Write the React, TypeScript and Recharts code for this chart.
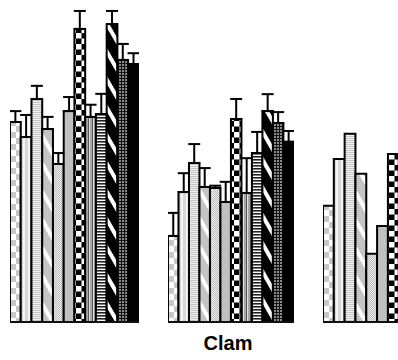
import React from 'react';
import { BarChart, Bar, XAxis, YAxis, ErrorBar } from 'recharts';

const groupNames = ['Group A', 'Clam', 'Group C'];
const seriesKeys = ['s1', 's2', 's3', 's4', 's5', 's6', 's7', 's8', 's9', 's10', 's11', 's12'];

const group1Values = [62.5, 57.8, 69.7, 60.3, 49.4, 65.9, 91.6, 64.1, 65.0, 93.1, 81.9, 80.6];
const group1Errors = [3.4, 6.9, 4.1, 3.8, 3.4, 4.4, 5.6, 3.8, 6.3, 4.1, 5.0, 3.4];

const group2Values = [26.9, 40.6, 49.7, 42.2, 41.9, 37.5, 63.4, 40.3, 52.8, 65.9, 62.2, 56.3];
const group2Errors = [7.2, 5.9, 5.9, 5.9, 0.7, 6.3, 6.3, 10.9, 6.6, 5.3, 3.4, 3.4];

const group3Values = [36.3, 50.9, 58.8, 46.3, 21.3, 30.0, 52.5, null, null, null, null, null];

function buildRows(name: string, values: (number | null)[], errors?: number[]) {
  const row: any = { name };
  seriesKeys.forEach((k, i) => {
    row[k] = values[i];
    if (errors) row[k + 'e'] = [0, errors[i]];
  });
  return [row];
}

const data1 = buildRows(groupNames[0], group1Values, group1Errors);
const data2 = buildRows(groupNames[1], group2Values, group2Errors);
const data3 = buildRows(groupNames[2], group3Values);

function Patterns() {
  return (
    <svg width={0} height={0} style={{ position: 'absolute', left: 0, top: 0 }}>
      <defs>
        <pattern id="pat1" width="12" height="12" patternUnits="userSpaceOnUse">
          <rect width="12" height="12" fill="#ffffff" />
          <rect width="6" height="6" fill="#c8c8c8" />
          <rect x="6" y="6" width="6" height="6" fill="#c8c8c8" />
        </pattern>
        <pattern id="pat2" width="5" height="5" patternUnits="userSpaceOnUse">
          <rect width="5" height="5" fill="#d6d6d6" />
          <rect x="3" width="2" height="5" fill="#f4f4f4" />
        </pattern>
        <pattern id="pat3" width="4" height="2" patternUnits="userSpaceOnUse">
          <rect width="4" height="2" fill="#f2f2f2" />
          <rect width="4" height="1" fill="#c4c4c4" />
        </pattern>
        <pattern id="pat4" width="14" height="14" patternUnits="userSpaceOnUse" patternTransform="rotate(-30)">
          <rect width="14" height="14" fill="#c4c4c4" />
          <rect width="4" height="14" fill="#ffffff" />
        </pattern>
        <pattern id="pat5" width="2" height="2" patternUnits="userSpaceOnUse">
          <rect width="2" height="2" fill="#eeeeee" />
          <rect width="1" height="1" fill="#bcbcbc" />
          <rect x="1" y="1" width="1" height="1" fill="#bcbcbc" />
        </pattern>
        <pattern id="pat6" width="4" height="4" patternUnits="userSpaceOnUse">
          <rect width="4" height="4" fill="#c0c0c0" />
        </pattern>
        <pattern id="pat7" width="11" height="11" patternUnits="userSpaceOnUse">
          <rect width="11" height="11" fill="#000000" />
          <rect width="5.5" height="5.5" fill="#ffffff" />
          <rect x="5.5" y="5.5" width="5.5" height="5.5" fill="#ffffff" />
        </pattern>
        <pattern id="pat8" width="4" height="4" patternUnits="userSpaceOnUse">
          <rect width="4" height="4" fill="#a8a8a8" />
          <rect x="2" width="1" height="4" fill="#555555" />
          <rect x="3" width="1" height="4" fill="#e0e0e0" />
        </pattern>
        <pattern id="pat9" width="4" height="3" patternUnits="userSpaceOnUse">
          <rect width="4" height="3" fill="#ffffff" />
          <rect width="4" height="1.6" fill="#222222" />
        </pattern>
        <pattern id="pat10" width="14" height="14" patternUnits="userSpaceOnUse" patternTransform="rotate(-30)">
          <rect width="14" height="14" fill="#000000" />
          <rect width="4" height="14" fill="#ffffff" />
        </pattern>
        <pattern id="pat11" width="3" height="3" patternUnits="userSpaceOnUse">
          <rect width="3" height="3" fill="#111111" />
          <rect x="1" y="1" width="2" height="2" fill="#8a8a8a" />
        </pattern>
        <pattern id="pat12" width="4" height="4" patternUnits="userSpaceOnUse">
          <rect width="4" height="4" fill="#000000" />
        </pattern>
      </defs>
    </svg>
  );
}

type PanelProps = {
  data: any[];
  left: number;
  width: number;
  barSize: number;
  showErrors: boolean;
  showLabel: boolean;
};

function Panel({ data, left, width, barSize, showErrors, showLabel }: PanelProps) {
  return (
    <div style={{ position: 'absolute', left, top: 0 }}>
      <BarChart
        width={width}
        height={360}
        data={data}
        margin={{ top: 2, right: 0, bottom: 0, left: 0 }}
        barCategoryGap={0}
        barGap={0}
        barSize={barSize}
      >
        <XAxis
          dataKey="name"
          height={38}
          axisLine={{ stroke: '#111', strokeWidth: 2 }}
          tickLine={false}
          interval={0}
          tickMargin={8}
          tick={
            showLabel
              ? {
                  fontSize: 20,
                  fontWeight: 'bold',
                  fill: '#000',
                  dx: -3,
                  fontFamily: '"Liberation Sans", Arial, sans-serif',
                }
              : false
          }
        />
        <YAxis hide domain={[0, 100]} allowDataOverflow />
        {seriesKeys.map((k, i) => (
          <Bar
            key={k}
            dataKey={k}
            fill={`url(#pat${i + 1})`}
            stroke="#000"
            strokeWidth={2}
            isAnimationActive={false}
          >
            {showErrors && (
              <ErrorBar
                dataKey={k + 'e'}
                width={6}
                stroke="#000"
                strokeWidth={2}
                direction="y"
                isAnimationActive={false}
              />
            )}
          </Bar>
        ))}
      </BarChart>
    </div>
  );
}

export default function App() {
  return (
    <div
      style={{
        position: 'absolute',
        left: 0,
        top: 0,
        width: 398,
        height: 360,
        overflow: 'hidden',
        background: '#fff',
      }}
    >
      <Patterns />
      <Panel data={data1} left={10} width={129} barSize={10.74} showErrors showLabel={false} />
      <Panel data={data2} left={168} width={126} barSize={10.49} showErrors showLabel />
      <Panel data={data3} left={323} width={130} barSize={10.82} showErrors={false} showLabel={false} />
    </div>
  );
}
